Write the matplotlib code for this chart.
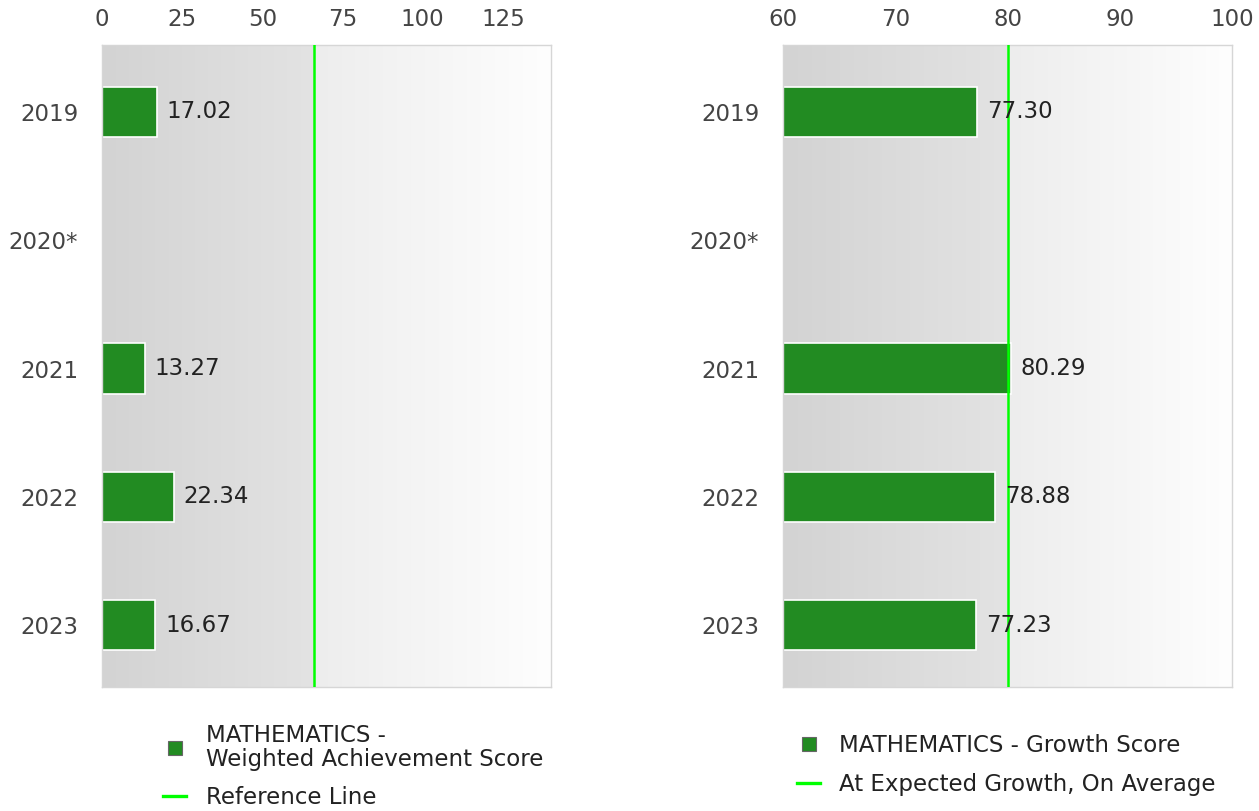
import numpy as np
import matplotlib
matplotlib.use("Agg")
import matplotlib.pyplot as plt
from matplotlib.lines import Line2D

years = ["2019", "2020*", "2021", "2022", "2023"]
achievement = [17.02, None, 13.27, 22.34, 16.67]
growth = [77.30, None, 80.29, 78.88, 77.23]
achievement_ref = 66
growth_ref = 80

plt.rcParams['font.family'] = 'sans-serif'
plt.rcParams['font.sans-serif'] = ['DejaVu Sans']
bar_color = "#228b22"
ref_color = "#00ff00"
tick_color = "#444444"
text_color = "#222222"
fs = 16.5


def gradient_bg(ax, x0, x1, split):
    # two-part horizontal gradient, darker on the left
    n = 400
    xs = np.linspace(x0, x1, n)
    frac = (split - x0) / (x1 - x0)
    t = np.linspace(0, 1, n)
    vals = np.where(xs < split,
                    211 + (227 - 211) * t / max(frac, 1e-6),
                    237 + (254 - 237) * (t - frac) / max(1 - frac, 1e-6))
    img = np.repeat((vals / 255.0)[None, :, None], 3, axis=2)
    ax.imshow(img, extent=[x0, x1, 4.48, -0.52], aspect="auto", zorder=0,
              interpolation="bilinear")


def panel(ax, values, base, xmax, ticks, ref):
    y = np.arange(len(years))
    gradient_bg(ax, base, xmax, ref)
    for i, v in enumerate(values):
        if v is None:
            continue
        ax.barh(i, v - base, left=base, height=0.39, color=bar_color,
                edgecolor="white", linewidth=1.2, zorder=2)
        ax.annotate(f"{v:.2f}", (v, i), xytext=(7, 0), textcoords="offset points",
                    va="center", ha="left", fontsize=fs, color=text_color, zorder=4)
    ax.axvline(ref, color=ref_color, linewidth=1.8, zorder=3)
    ax.set_xlim(base, xmax)
    ax.set_ylim(4.48, -0.52)
    ax.set_xticks(ticks)
    ax.set_yticks(y)
    ax.set_yticklabels(years)
    ax.xaxis.tick_top()
    ax.tick_params(axis="both", length=0, labelsize=fs, colors=tick_color)
    ax.tick_params(axis="x", pad=10)
    ax.tick_params(axis="y", pad=17)
    for s in ax.spines.values():
        s.set_color("#d6d6d6")
        s.set_linewidth(1.0)
    handles = [
        Line2D([], [], linestyle="none", marker="s", markersize=10,
               markerfacecolor=bar_color, markeredgecolor="#666666", markeredgewidth=0.8),
        Line2D([], [], color=ref_color, linewidth=2.4),
    ]
    return handles


fig = plt.figure(figsize=(12.59, 8.11), dpi=100)
ax1 = fig.add_axes([0.081, 0.153, 0.3566, 0.7915])
ax2 = fig.add_axes([0.6219, 0.153, 0.3567, 0.7915])

h1 = panel(ax1, achievement, 0, 140, [0, 25, 50, 75, 100, 125], achievement_ref)
h2 = panel(ax2, growth, 60, 100, [60, 70, 80, 90, 100], growth_ref)

leg1 = ax1.legend(h1, ["MATHEMATICS -\nWeighted Achievement Score", "Reference Line"],
                  loc="upper left", bbox_to_anchor=(0.116, -0.044), frameon=False,
                  fontsize=fs, labelcolor=text_color, handlelength=1.0, handletextpad=0.85,
                  labelspacing=0.67, borderaxespad=0)
leg1.get_texts()[0].set_linespacing(1.02)
ax2.legend(h2, ["MATHEMATICS - Growth Score", "At Expected Growth, On Average"],
           loc="upper left", bbox_to_anchor=(0.011, -0.0585), frameon=False,
           fontsize=fs, labelcolor=text_color, handlelength=1.0, handletextpad=0.85,
           labelspacing=0.72, borderaxespad=0)

plt.savefig("out.png", dpi=100)
